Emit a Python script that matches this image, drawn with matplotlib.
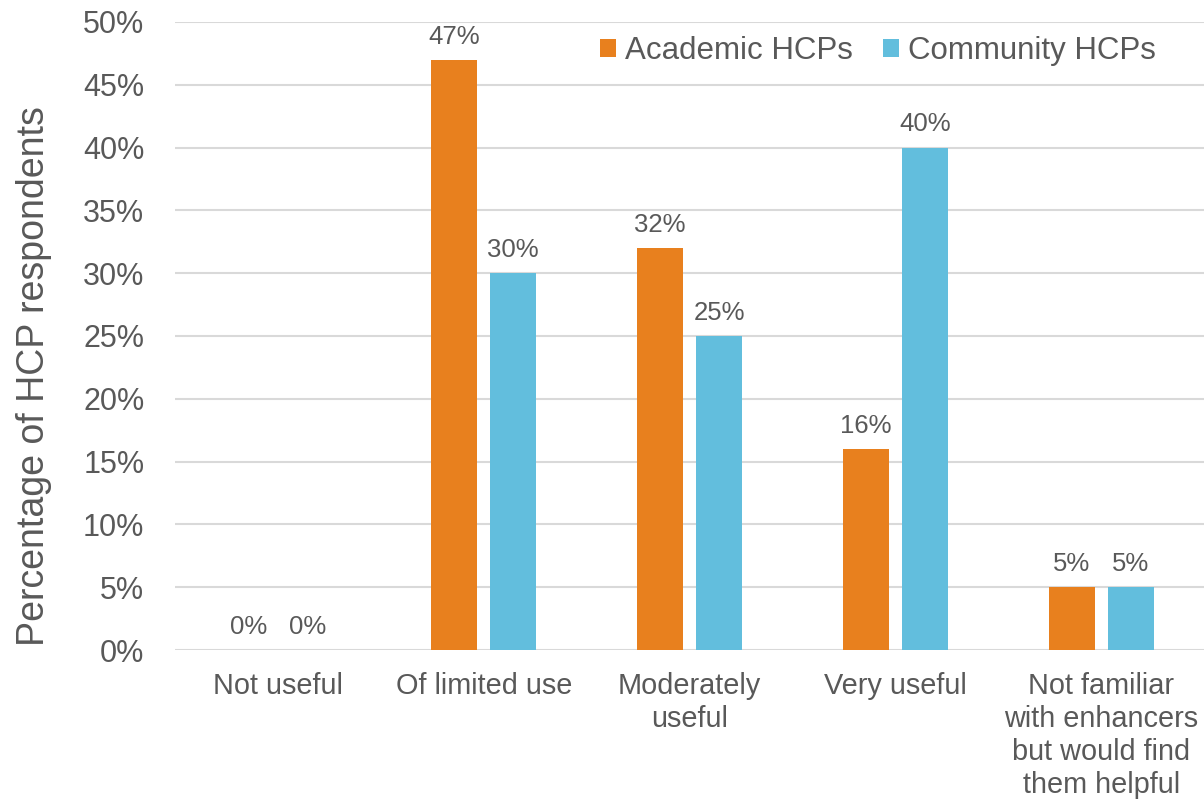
import numpy as np
import matplotlib.pyplot as plt

plt.rcParams['font.family'] = ['Liberation Sans', 'DejaVu Sans']

categories = ["Not useful", "Of limited use", "Moderately\nuseful", "Very useful",
              "Not familiar\nwith enhancers\nbut would find\nthem helpful"]
academic = [0, 47, 32, 16, 5]
community = [0, 30, 25, 40, 5]
series_names = ["Academic HCPs", "Community HCPs"]

text_col = '#595959'
orange = '#E8801E'
blue = '#62BEDD'

fig = plt.figure(figsize=(12.04, 8.02), dpi=100)
ax = fig.add_axes([0.1453, 0.1895, 0.855, 0.7831])

x = np.arange(len(categories))
w = 0.223
off = 0.143
b1 = ax.bar(x - off, academic, w, color=orange, label=series_names[0], zorder=3)
b2 = ax.bar(x + off, community, w, color=blue, label=series_names[1], zorder=3)

for bars, vals in [(b1, academic), (b2, community)]:
    for rect, v in zip(bars, vals):
        ax.annotate(f"{v}%", (rect.get_x() + rect.get_width() / 2, v),
                    xytext=(0, 8), textcoords='offset points',
                    ha='center', va='bottom', fontsize=18.5, color=text_col)

ax.set_xlim(-0.5, 4.5)
ax.set_ylim(0, 50)
ax.set_yticks(range(0, 51, 5))
ax.set_yticklabels([f"{t}%" for t in range(0, 51, 5)])
ax.set_xticks(x)
ax.set_xticklabels(categories, linespacing=1.23)
ax.tick_params(axis='y', length=0, labelsize=22, labelcolor=text_col, pad=22)
ax.tick_params(axis='x', length=0, labelsize=20.8, labelcolor=text_col, pad=16)
ax.grid(axis='y', color='#D9D9D9', linewidth=1.5, zorder=0)
for s in ax.spines.values():
    s.set_visible(False)

ax.set_ylabel("Percentage of HCP respondents", fontsize=27, color=text_col,
              labelpad=22, y=0.436)

leg = ax.legend(loc='upper right', bbox_to_anchor=(0.965, 0.998), ncol=2, frameon=False,
                fontsize=22.5, handlelength=0.5, handleheight=0.5, handletextpad=0.3,
                columnspacing=0.95, borderaxespad=0)
for t in leg.get_texts():
    t.set_color(text_col)

fig.savefig("out.png", dpi=100)
